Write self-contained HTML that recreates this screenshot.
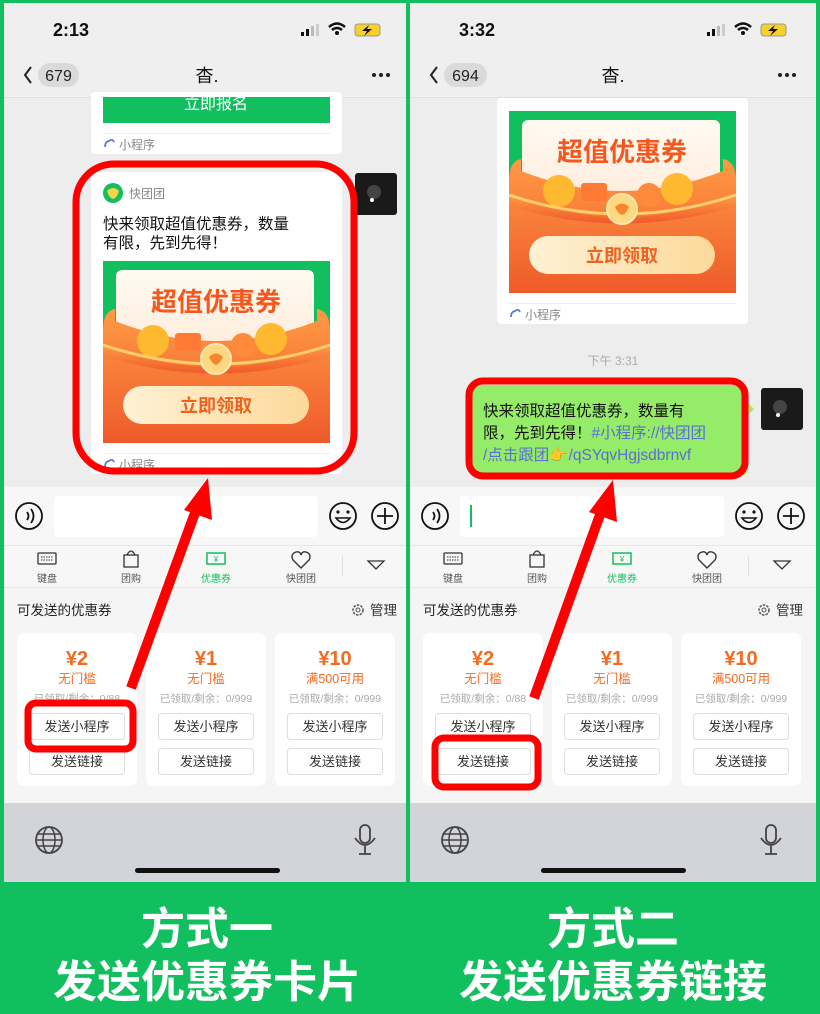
<!DOCTYPE html>
<html><head><meta charset="utf-8"><style>
html,body{margin:0;padding:0;background:#12bf5e;}
svg{display:block}
text{font-family:"Liberation Sans","Noto Sans CJK SC",sans-serif;}
</style></head><body>
<svg width="820" height="1014" viewBox="0 0 820 1014" xmlns="http://www.w3.org/2000/svg">
<defs>
<linearGradient id="env" x1="0" y1="0" x2="0" y2="1"><stop offset="0" stop-color="#ff9a45"/><stop offset="1" stop-color="#ef5a2a"/></linearGradient>
<linearGradient id="btn" x1="0" y1="0" x2="1" y2="0"><stop offset="0" stop-color="#fff1d4"/><stop offset="1" stop-color="#fcd99a"/></linearGradient>
<linearGradient id="card" x1="0" y1="0" x2="0" y2="1"><stop offset="0" stop-color="#fffaf2"/><stop offset="1" stop-color="#ffe9d6"/></linearGradient>
</defs>
<rect width="820" height="1014" fill="#12bf5e"/>

<!-- ================= LEFT PHONE ================= -->
<g>
<rect x="4" y="3" width="402" height="879" fill="#ededed"/>
<rect x="4" y="3" width="402" height="94" fill="#efefef"/>
<line x1="4" y1="97.5" x2="406" y2="97.5" stroke="#e0e0e0"/>
<text x="71" y="36" font-size="18" font-weight="bold" text-anchor="middle" fill="#111">2:13</text>
<rect x="301" y="32" width="3" height="4" fill="#111"/><rect x="306" y="29" width="3" height="7" fill="#111"/><rect x="311" y="26" width="3" height="10" fill="#bbb"/><rect x="316" y="24" width="3" height="12" fill="#ccc"/>
<path d="M329 27 Q337 20 345 27 M332 30 Q337 26 342 30" stroke="#111" stroke-width="2.5" fill="none"/><circle cx="337" cy="33" r="2" fill="#111"/>
<rect x="355" y="24" width="25" height="12" rx="3" fill="#f6d12a" stroke="#999"/><path d="M369 25 L362 31 L367 31 L364 36 L372 29 L367 29 Z" fill="#111"/>
<path d="M31 67 L25 75 L31 83" stroke="#222" stroke-width="2" fill="none"/>
<rect x="38" y="63" width="41" height="24" rx="12" fill="#dadada"/>
<text x="58.5" y="81" font-size="16" text-anchor="middle" fill="#222">679</text>
<text x="207" y="82" font-size="18" text-anchor="middle" fill="#111">杳.</text>
<circle cx="374" cy="75" r="2" fill="#222"/><circle cx="381" cy="75" r="2" fill="#222"/><circle cx="388" cy="75" r="2" fill="#222"/>

<!-- top card -->
<rect x="91" y="92" width="251" height="62" rx="4" fill="#fff"/>
<rect x="103" y="97" width="227" height="26" fill="#12bf5e"/>
<text x="216" y="109" font-size="16" text-anchor="middle" fill="#fff">立即报名</text>
<line x1="103" y1="133.5" x2="330" y2="133.5" stroke="#eee"/>
<path d="M105 147 q0 -6 5 -6 M109 141 q3 -3 5 1" stroke="#5a7fe0" stroke-width="1.8" fill="none"/>
<text x="119" y="149" font-size="12" fill="#888">小程序</text>
<rect x="4" y="97" width="402" height="0" fill="none"/>

<!-- main card -->
<rect x="91" y="172" width="251" height="302" rx="4" fill="#fff"/>
<rect x="355" y="173" width="42" height="42" rx="3" fill="#1a1a1a"/><circle cx="374" cy="192" r="7" fill="#444"/><circle cx="372" cy="200" r="2" fill="#fff"/>
<circle cx="113" cy="193" r="10" fill="#12bf5e"/><path d="M107 191 q6 -6 12 0 q-2 7 -6 8 q-4 -1 -6 -8z" fill="#f7d34a"/>
<text x="129" y="198" font-size="12" fill="#888">快团团</text>
<text x="103" y="229" font-size="15.5" fill="#111">快来领取超值优惠券，数量</text>
<text x="103" y="248" font-size="15.5" fill="#111">有限，先到先得！</text>
<g transform="translate(103,261)">
<rect width="227" height="182" fill="#12bf5e"/>
<rect x="13" y="9" width="198" height="100" rx="6" fill="url(#card)"/>
<text x="113" y="50" font-size="26" font-weight="bold" text-anchor="middle" fill="#f4581f">超值优惠券</text>
<path d="M0 70 Q0 50 12 48 L12 60 Q113 100 214 60 L214 48 Q227 50 227 70 L227 182 L0 182 Z" fill="url(#env)"/>
<circle cx="50" cy="80" r="16" fill="#ffb931"/><rect x="72" y="72" width="26" height="18" rx="3" fill="#ff7b35"/><circle cx="168" cy="78" r="16" fill="#ffb931"/><circle cx="140" cy="84" r="12" fill="#ff8a3a"/>
<path d="M0 84 Q113 128 227 84 L227 95 Q113 130 0 95 Z" fill="url(#env)"/>
<path d="M0 84 Q113 122 227 84" stroke="#ffcf6b" stroke-width="3" fill="none"/>
<circle cx="113" cy="98" r="15" fill="#ffd981" stroke="#ffe9b3" stroke-width="2"/><path d="M106 96 q7 -7 14 0 q-3 7 -7 8 q-4 -1 -7 -8z" fill="#f5882f"/>
<rect x="20" y="125" width="186" height="38" rx="19" fill="url(#btn)"/>
<text x="113" y="151" font-size="18" font-weight="bold" text-anchor="middle" fill="#f0601e">立即领取</text>
</g>
<line x1="103" y1="453.5" x2="330" y2="453.5" stroke="#eee"/>
<path d="M105 467 q0 -6 5 -6 M109 461 q3 -3 5 1" stroke="#5a7fe0" stroke-width="1.8" fill="none"/>
<text x="119" y="469" font-size="12" fill="#888">小程序</text>
<rect x="76" y="164" width="278" height="307" rx="38" fill="none" stroke="#f00" stroke-width="7"/>

<!-- input bar -->
<rect x="4" y="487" width="402" height="58" fill="#f7f7f7"/>
<circle cx="29" cy="516" r="13" fill="none" stroke="#111" stroke-width="1.8"/><path d="M27 512 q3 4 0 8 M31 509 q5 7 0 14" stroke="#111" stroke-width="1.8" fill="none"/>
<rect x="54" y="496" width="264" height="41" rx="4" fill="#fff"/>
<circle cx="343" cy="516" r="13" fill="none" stroke="#111" stroke-width="1.8"/><circle cx="338" cy="512" r="1.6" fill="#111"/><circle cx="348" cy="512" r="1.6" fill="#111"/><path d="M336 518 q7 9 14 0z" fill="none" stroke="#111" stroke-width="1.6"/>
<circle cx="385" cy="516" r="13" fill="none" stroke="#111" stroke-width="1.8"/><path d="M385 508v16M377 516h16" stroke="#111" stroke-width="1.8"/>
<!-- tabs -->
<rect x="4" y="545" width="402" height="42" fill="#f7f7f7"/>
<line x1="4" y1="545.5" x2="406" y2="545.5" stroke="#e6e6e6"/>
<rect x="38" y="553" width="18" height="11" rx="1" fill="none" stroke="#333" stroke-width="1.3"/><path d="M41 557h12M41 560h12" stroke="#333" stroke-dasharray="1.5 1"/>
<text x="47" y="582" font-size="10" text-anchor="middle" fill="#555">键盘</text>
<rect x="124" y="555" width="14" height="12" fill="none" stroke="#333" stroke-width="1.3"/><path d="M127 555 q4 -8 8 0" fill="none" stroke="#333" stroke-width="1.3"/>
<text x="131" y="582" font-size="10" text-anchor="middle" fill="#555">团购</text>
<rect x="207" y="553" width="18" height="11" fill="none" stroke="#12bf5e" stroke-width="1.5"/><text x="216" y="562" font-size="8" text-anchor="middle" fill="#12bf5e">¥</text>
<text x="216" y="582" font-size="10" text-anchor="middle" fill="#12bf5e">优惠券</text>
<path d="M301 568 l-8 -8 q-3 -6 3 -8 q4 -1 5 3 q1 -4 5 -3 q6 2 3 8z" fill="none" stroke="#333" stroke-width="1.4"/>
<text x="301" y="582" font-size="10" text-anchor="middle" fill="#555">快团团</text>
<line x1="342.5" y1="556" x2="342.5" y2="576" stroke="#e0e0e0"/>
<path d="M368 561 L384 561 L376 569 Z" fill="none" stroke="#333" stroke-width="1.3"/>
<line x1="4" y1="587.5" x2="406" y2="587.5" stroke="#e6e6e6"/>
<!-- coupon panel -->
<rect x="4" y="588" width="402" height="215" fill="#f5f5f5"/>
<text x="17" y="615" font-size="13.5" fill="#222">可发送的优惠券</text>
<circle cx="358" cy="610" r="5" fill="none" stroke="#555" stroke-width="1.5" stroke-dasharray="2.5 1.2"/><circle cx="358" cy="610" r="2" fill="none" stroke="#555"/>
<text x="370" y="615" font-size="13.5" fill="#333">管理</text>
<g font-size="11">
<rect x="17" y="633" width="120" height="153" rx="7" fill="#fff"/>
<text x="77" y="665" font-size="20" font-weight="bold" text-anchor="middle" fill="#f56a1f">¥2</text>
<text x="77" y="683" font-size="12.5" text-anchor="middle" fill="#f56a1f">无门槛</text>
<text x="77" y="702" font-size="10.5" text-anchor="middle" fill="#aaa">已领取/剩余：0/88</text>
<rect x="29.5" y="713.5" width="95" height="26" rx="3" fill="#fff" stroke="#ddd"/><text x="77" y="731" font-size="13" text-anchor="middle" fill="#333">发送小程序</text>
<rect x="29.5" y="748.5" width="95" height="26" rx="3" fill="#fff" stroke="#ddd"/><text x="77" y="766" font-size="13" text-anchor="middle" fill="#333">发送链接</text>
<rect x="146" y="633" width="120" height="153" rx="7" fill="#fff"/>
<text x="206" y="665" font-size="20" font-weight="bold" text-anchor="middle" fill="#f56a1f">¥1</text>
<text x="206" y="683" font-size="12.5" text-anchor="middle" fill="#f56a1f">无门槛</text>
<text x="206" y="702" font-size="10.5" text-anchor="middle" fill="#aaa">已领取/剩余：0/999</text>
<rect x="158.5" y="713.5" width="95" height="26" rx="3" fill="#fff" stroke="#ddd"/><text x="206" y="731" font-size="13" text-anchor="middle" fill="#333">发送小程序</text>
<rect x="158.5" y="748.5" width="95" height="26" rx="3" fill="#fff" stroke="#ddd"/><text x="206" y="766" font-size="13" text-anchor="middle" fill="#333">发送链接</text>
<rect x="275" y="633" width="120" height="153" rx="7" fill="#fff"/>
<text x="335" y="665" font-size="20" font-weight="bold" text-anchor="middle" fill="#f56a1f">¥10</text>
<text x="335" y="683" font-size="12.5" text-anchor="middle" fill="#f56a1f">满500可用</text>
<text x="335" y="702" font-size="10.5" text-anchor="middle" fill="#aaa">已领取/剩余：0/999</text>
<rect x="287.5" y="713.5" width="95" height="26" rx="3" fill="#fff" stroke="#ddd"/><text x="335" y="731" font-size="13" text-anchor="middle" fill="#333">发送小程序</text>
<rect x="287.5" y="748.5" width="95" height="26" rx="3" fill="#fff" stroke="#ddd"/><text x="335" y="766" font-size="13" text-anchor="middle" fill="#333">发送链接</text>
</g>
<rect x="28" y="703" width="105" height="46" rx="8" fill="none" stroke="#f00" stroke-width="7"/>
<!-- keyboard -->
<rect x="4" y="803" width="402" height="79" fill="#d2d4da"/>
<circle cx="49" cy="840" r="13" fill="none" stroke="#444" stroke-width="1.8"/><ellipse cx="49" cy="840" rx="6" ry="13" fill="none" stroke="#444" stroke-width="1.5"/><path d="M36 840h26M38 834h22M38 846h22" stroke="#444" stroke-width="1.4"/>
<rect x="360" y="825" width="10" height="18" rx="5" fill="none" stroke="#444" stroke-width="1.8"/><path d="M355 838 q10 14 20 0 M365 846v8M359 854h12" fill="none" stroke="#444" stroke-width="1.8"/>
<rect x="135" y="868" width="145" height="5" rx="2.5" fill="#111"/>
<!-- arrow -->
<line x1="131" y1="688" x2="196" y2="510" stroke="#f00" stroke-width="10"/>
<path d="M208 478 L184 510 L212 520 Z" fill="#f00"/>
</g>

<!-- ================= RIGHT PHONE ================= -->
<g transform="translate(406,0)">
<rect x="4" y="3" width="406" height="879" fill="#ededed"/>
<rect x="4" y="3" width="406" height="94" fill="#efefef"/>
<line x1="4" y1="97.5" x2="410" y2="97.5" stroke="#e0e0e0"/>
<text x="71" y="36" font-size="18" font-weight="bold" text-anchor="middle" fill="#111">3:32</text>
<rect x="301" y="32" width="3" height="4" fill="#111"/><rect x="306" y="29" width="3" height="7" fill="#111"/><rect x="311" y="26" width="3" height="10" fill="#bbb"/><rect x="316" y="24" width="3" height="12" fill="#ccc"/>
<path d="M329 27 Q337 20 345 27 M332 30 Q337 26 342 30" stroke="#111" stroke-width="2.5" fill="none"/><circle cx="337" cy="33" r="2" fill="#111"/>
<rect x="355" y="24" width="25" height="12" rx="3" fill="#f6d12a" stroke="#999"/><path d="M369 25 L362 31 L367 31 L364 36 L372 29 L367 29 Z" fill="#111"/>
<path d="M31 67 L25 75 L31 83" stroke="#222" stroke-width="2" fill="none"/>
<rect x="38" y="63" width="43" height="24" rx="12" fill="#dadada"/>
<text x="59.5" y="81" font-size="16" text-anchor="middle" fill="#222">694</text>
<text x="207" y="82" font-size="18" text-anchor="middle" fill="#111">杳.</text>
<circle cx="374" cy="75" r="2" fill="#222"/><circle cx="381" cy="75" r="2" fill="#222"/><circle cx="388" cy="75" r="2" fill="#222"/>

<rect x="91" y="98" width="251" height="226" rx="4" fill="#fff"/>
<g transform="translate(103,111)">
<rect width="227" height="182" fill="#12bf5e"/>
<rect x="13" y="9" width="198" height="100" rx="6" fill="url(#card)"/>
<text x="113" y="50" font-size="26" font-weight="bold" text-anchor="middle" fill="#f4581f">超值优惠券</text>
<path d="M0 70 Q0 50 12 48 L12 60 Q113 100 214 60 L214 48 Q227 50 227 70 L227 182 L0 182 Z" fill="url(#env)"/>
<circle cx="50" cy="80" r="16" fill="#ffb931"/><rect x="72" y="72" width="26" height="18" rx="3" fill="#ff7b35"/><circle cx="168" cy="78" r="16" fill="#ffb931"/><circle cx="140" cy="84" r="12" fill="#ff8a3a"/>
<path d="M0 84 Q113 128 227 84 L227 95 Q113 130 0 95 Z" fill="url(#env)"/>
<path d="M0 84 Q113 122 227 84" stroke="#ffcf6b" stroke-width="3" fill="none"/>
<circle cx="113" cy="98" r="15" fill="#ffd981" stroke="#ffe9b3" stroke-width="2"/><path d="M106 96 q7 -7 14 0 q-3 7 -7 8 q-4 -1 -7 -8z" fill="#f5882f"/>
<rect x="20" y="125" width="186" height="38" rx="19" fill="url(#btn)"/>
<text x="113" y="151" font-size="18" font-weight="bold" text-anchor="middle" fill="#f0601e">立即领取</text>
</g>
<line x1="103" y1="303.5" x2="330" y2="303.5" stroke="#eee"/>
<path d="M105 317 q0 -6 5 -6 M109 311 q3 -3 5 1" stroke="#5a7fe0" stroke-width="1.8" fill="none"/>
<text x="119" y="319" font-size="12" fill="#888">小程序</text>
<text x="207" y="365" font-size="12" text-anchor="middle" fill="#aaa">下午 3:31</text>

<rect x="66" y="385" width="276" height="90" rx="5" fill="#95ec69"/>
<path d="M342 403 L348 409 L342 415 Z" fill="#95ec69"/>
<rect x="355" y="388" width="42" height="42" rx="3" fill="#1a1a1a"/><circle cx="374" cy="407" r="7" fill="#444"/><circle cx="372" cy="415" r="2" fill="#fff"/>
<text x="77" y="416" font-size="15.5" fill="#111">快来领取超值优惠券，数量有</text>
<text x="77" y="438" font-size="15.5" fill="#111">限，先到先得！<tspan fill="#5a6fd0">#小程序://快团团</tspan></text>
<text x="77" y="460" font-size="15.5" fill="#5a6fd0">/点击跟团👉/qSYqvHgjsdbrnvf</text>
<rect x="63" y="381" width="276" height="95" rx="14" fill="none" stroke="#f00" stroke-width="7"/>

<rect x="4" y="487" width="406" height="58" fill="#f7f7f7"/>
<circle cx="29" cy="516" r="13" fill="none" stroke="#111" stroke-width="1.8"/><path d="M27 512 q3 4 0 8 M31 509 q5 7 0 14" stroke="#111" stroke-width="1.8" fill="none"/>
<rect x="54" y="496" width="264" height="41" rx="4" fill="#fff"/>
<rect x="64" y="505" width="2" height="22" fill="#12bf5e"/>
<circle cx="343" cy="516" r="13" fill="none" stroke="#111" stroke-width="1.8"/><circle cx="338" cy="512" r="1.6" fill="#111"/><circle cx="348" cy="512" r="1.6" fill="#111"/><path d="M336 518 q7 9 14 0z" fill="none" stroke="#111" stroke-width="1.6"/>
<circle cx="385" cy="516" r="13" fill="none" stroke="#111" stroke-width="1.8"/><path d="M385 508v16M377 516h16" stroke="#111" stroke-width="1.8"/>
<rect x="4" y="545" width="406" height="42" fill="#f7f7f7"/>
<line x1="4" y1="545.5" x2="410" y2="545.5" stroke="#e6e6e6"/>
<rect x="38" y="553" width="18" height="11" rx="1" fill="none" stroke="#333" stroke-width="1.3"/><path d="M41 557h12M41 560h12" stroke="#333" stroke-dasharray="1.5 1"/>
<text x="47" y="582" font-size="10" text-anchor="middle" fill="#555">键盘</text>
<rect x="124" y="555" width="14" height="12" fill="none" stroke="#333" stroke-width="1.3"/><path d="M127 555 q4 -8 8 0" fill="none" stroke="#333" stroke-width="1.3"/>
<text x="131" y="582" font-size="10" text-anchor="middle" fill="#555">团购</text>
<rect x="207" y="553" width="18" height="11" fill="none" stroke="#12bf5e" stroke-width="1.5"/><text x="216" y="562" font-size="8" text-anchor="middle" fill="#12bf5e">¥</text>
<text x="216" y="582" font-size="10" text-anchor="middle" fill="#12bf5e">优惠券</text>
<path d="M301 568 l-8 -8 q-3 -6 3 -8 q4 -1 5 3 q1 -4 5 -3 q6 2 3 8z" fill="none" stroke="#333" stroke-width="1.4"/>
<text x="301" y="582" font-size="10" text-anchor="middle" fill="#555">快团团</text>
<line x1="342.5" y1="556" x2="342.5" y2="576" stroke="#e0e0e0"/>
<path d="M368 561 L384 561 L376 569 Z" fill="none" stroke="#333" stroke-width="1.3"/>
<line x1="4" y1="587.5" x2="410" y2="587.5" stroke="#e6e6e6"/>
<rect x="4" y="588" width="406" height="215" fill="#f5f5f5"/>
<text x="17" y="615" font-size="13.5" fill="#222">可发送的优惠券</text>
<circle cx="358" cy="610" r="5" fill="none" stroke="#555" stroke-width="1.5" stroke-dasharray="2.5 1.2"/><circle cx="358" cy="610" r="2" fill="none" stroke="#555"/>
<text x="370" y="615" font-size="13.5" fill="#333">管理</text>
<rect x="17" y="633" width="120" height="153" rx="7" fill="#fff"/>
<text x="77" y="665" font-size="20" font-weight="bold" text-anchor="middle" fill="#f56a1f">¥2</text>
<text x="77" y="683" font-size="12.5" text-anchor="middle" fill="#f56a1f">无门槛</text>
<text x="77" y="702" font-size="10.5" text-anchor="middle" fill="#aaa">已领取/剩余：0/88</text>
<rect x="29.5" y="713.5" width="95" height="26" rx="3" fill="#fff" stroke="#ddd"/><text x="77" y="731" font-size="13" text-anchor="middle" fill="#333">发送小程序</text>
<rect x="29.5" y="748.5" width="95" height="26" rx="3" fill="#fff" stroke="#ddd"/><text x="77" y="766" font-size="13" text-anchor="middle" fill="#333">发送链接</text>
<rect x="146" y="633" width="120" height="153" rx="7" fill="#fff"/>
<text x="206" y="665" font-size="20" font-weight="bold" text-anchor="middle" fill="#f56a1f">¥1</text>
<text x="206" y="683" font-size="12.5" text-anchor="middle" fill="#f56a1f">无门槛</text>
<text x="206" y="702" font-size="10.5" text-anchor="middle" fill="#aaa">已领取/剩余：0/999</text>
<rect x="158.5" y="713.5" width="95" height="26" rx="3" fill="#fff" stroke="#ddd"/><text x="206" y="731" font-size="13" text-anchor="middle" fill="#333">发送小程序</text>
<rect x="158.5" y="748.5" width="95" height="26" rx="3" fill="#fff" stroke="#ddd"/><text x="206" y="766" font-size="13" text-anchor="middle" fill="#333">发送链接</text>
<rect x="275" y="633" width="120" height="153" rx="7" fill="#fff"/>
<text x="335" y="665" font-size="20" font-weight="bold" text-anchor="middle" fill="#f56a1f">¥10</text>
<text x="335" y="683" font-size="12.5" text-anchor="middle" fill="#f56a1f">满500可用</text>
<text x="335" y="702" font-size="10.5" text-anchor="middle" fill="#aaa">已领取/剩余：0/999</text>
<rect x="287.5" y="713.5" width="95" height="26" rx="3" fill="#fff" stroke="#ddd"/><text x="335" y="731" font-size="13" text-anchor="middle" fill="#333">发送小程序</text>
<rect x="287.5" y="748.5" width="95" height="26" rx="3" fill="#fff" stroke="#ddd"/><text x="335" y="766" font-size="13" text-anchor="middle" fill="#333">发送链接</text>
<rect x="29" y="738" width="103" height="49" rx="9" fill="none" stroke="#f00" stroke-width="7"/>
<rect x="4" y="803" width="406" height="79" fill="#d2d4da"/>
<circle cx="49" cy="840" r="13" fill="none" stroke="#444" stroke-width="1.8"/><ellipse cx="49" cy="840" rx="6" ry="13" fill="none" stroke="#444" stroke-width="1.5"/><path d="M36 840h26M38 834h22M38 846h22" stroke="#444" stroke-width="1.4"/>
<rect x="360" y="825" width="10" height="18" rx="5" fill="none" stroke="#444" stroke-width="1.8"/><path d="M355 838 q10 14 20 0 M365 846v8M359 854h12" fill="none" stroke="#444" stroke-width="1.8"/>
<rect x="135" y="868" width="145" height="5" rx="2.5" fill="#111"/>
<line x1="128" y1="698" x2="195" y2="512" stroke="#f00" stroke-width="10"/>
<path d="M207 480 L183 512 L211 522 Z" fill="#f00"/>
</g>

<!-- bottom captions -->
<g font-weight="bold" fill="#fff" text-anchor="middle" font-size="44">
<text x="207" y="944">方式一</text>
<text x="207" y="997">发送优惠券卡片</text>
<text x="613" y="944">方式二</text>
<text x="613" y="997">发送优惠券链接</text>
</g>
</svg>
</body></html>
